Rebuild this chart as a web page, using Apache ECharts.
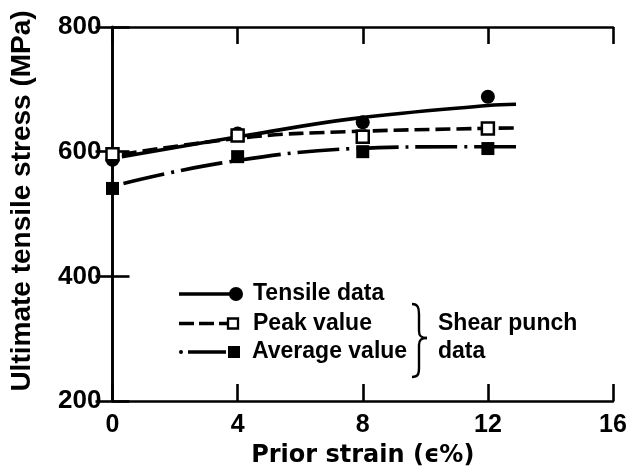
<!DOCTYPE html>
<html>
<head>
<meta charset="utf-8">
<title>Ultimate tensile stress vs prior strain</title>
<script src="https://cdn.jsdelivr.net/npm/echarts@6/dist/echarts.min.js"></script>
<style>
  html, body { margin: 0; padding: 0; background: #fff; }
  #chart { width: 633px; height: 473px; }
</style>
</head>
<body>
<div id="chart"></div>
<script>
// Prior strain (%) at which each material was tested
const strain = [0, 4, 8, 12];

// Measured points
const tensileData = [587, 629, 647, 688];   // tensile tests
const peakValue = [596, 626, 624, 637];     // shear punch, peak
const averageValue = [541, 592, 600, 605];  // shear punch, average

// Fitted trend curves, sampled along their drawn length
const tensileFitX = [0.3, 4.4, 7.7, 12.0, 12.9];
const tensileFitY = [592, 627, 653, 674, 676];
const peakFitX = [0.3, 4.5, 7.5, 11.5, 12.9];
const peakFitY = [596, 624, 632, 637, 638];
const averageFitX = [0.35, 3.5, 7.7, 11.3, 12.9];
const averageFitY = [549, 582, 605, 608, 608];

// Axis ranges and ticks
const xTicks = [0, 4, 8, 12, 16];
const yTicks = [200, 400, 600, 800];

const FONT = 'Liberation Sans';
const WIDE_FONT = 'DejaVu Sans';
const INK = '#000';

const pairs = (xs, ys) => xs.map((x, i) => [x, ys[i]]);

const chart = echarts.init(document.getElementById('chart'), null, { renderer: 'canvas' });

const axisCommon = {
  axisLine: { show: true, lineStyle: { color: INK, width: 2.6 } },
  axisTick: { show: true, inside: true, length: 17, lineStyle: { color: INK, width: 2.6 } },
  splitLine: { show: false }
};

const xBase = {
  type: 'value',
  min: xTicks[0],
  max: xTicks[xTicks.length - 1],
  interval: 4
};
const yBase = {
  type: 'value',
  min: yTicks[0],
  max: yTicks[yTicks.length - 1],
  interval: 200
};

const fitLine = (name, xs, ys, type) => ({
  name: name,
  type: 'line',
  data: pairs(xs, ys),
  smooth: 0.4,
  showSymbol: false,
  symbol: 'none',
  clip: false,
  silent: true,
  lineStyle: { color: INK, width: 3.6, type: type, cap: 'butt' },
  z: 2
});

const markers = (name, ys, symbol, size, fill) => ({
  name: name,
  type: 'scatter',
  data: pairs(strain, ys),
  symbol: symbol,
  symbolSize: size,
  clip: false,
  itemStyle: { color: fill, borderColor: INK, borderWidth: fill === '#fff' ? 2.5 : 0, opacity: 1 },
  z: 5
});

// Legend pieces drawn inside the plot
const legendY = [294, 323.5, 352];
const legendText = ['Tensile data', 'Peak value', 'Average value'];
const label = (text, x, y) => ({
  type: 'text',
  x: x,
  y: y,
  style: { text: text, fill: INK, font: 'bold 23px "' + FONT + '"', verticalAlign: 'middle', align: 'left' }
});
const stroke = { stroke: INK, lineWidth: 2.4, fill: null };

const graphic = [
  // vertical axis title
  {
    type: 'text',
    x: 22,
    y: 201,
    rotation: Math.PI / 2,
    style: { text: 'Ultimate tensile stress (MPa)', fill: INK, font: 'bold 28px "' + FONT + '"', align: 'center', verticalAlign: 'middle' }
  },
  { type: 'line', shape: { x1: 179, y1: legendY[0], x2: 230, y2: legendY[0] }, style: { stroke: INK, lineWidth: 3.6 } },
  { type: 'circle', shape: { cx: 236, cy: legendY[0], r: 7 }, style: { fill: INK } },
  { type: 'line', shape: { x1: 179, y1: legendY[1], x2: 227, y2: legendY[1] }, style: { stroke: INK, lineWidth: 3.6, lineDash: [15, 5] } },
  { type: 'rect', shape: { x: 228, y: legendY[1] - 5, width: 10, height: 10 }, style: { fill: '#fff', stroke: INK, lineWidth: 2.3 } },
  { type: 'circle', shape: { cx: 181, cy: legendY[2], r: 2 }, style: { fill: INK } },
  { type: 'line', shape: { x1: 188, y1: legendY[2], x2: 226, y2: legendY[2] }, style: { stroke: INK, lineWidth: 3.6 } },
  { type: 'rect', shape: { x: 228, y: legendY[2] - 6, width: 12, height: 12 }, style: { fill: INK } },
  label(legendText[0], 253, legendY[0]),
  label(legendText[1], 253, legendY[1]),
  label(legendText[2], 252, legendY[2]),
  // curly brace grouping the two shear punch entries
  { type: 'bezierCurve', shape: { x1: 412, y1: 304, cpx1: 418, cpy1: 304, cpx2: 419, cpy2: 308, x2: 419, y2: 314 }, style: stroke },
  { type: 'line', shape: { x1: 419, y1: 314, x2: 419, y2: 331 }, style: stroke },
  { type: 'bezierCurve', shape: { x1: 419, y1: 331, cpx1: 419, cpy1: 336, cpx2: 421, cpy2: 338, x2: 427, y2: 338 }, style: stroke },
  { type: 'bezierCurve', shape: { x1: 427, y1: 338, cpx1: 421, cpy1: 338, cpx2: 419, cpy2: 340, x2: 419, y2: 345 }, style: stroke },
  { type: 'line', shape: { x1: 419, y1: 345, x2: 419, y2: 368 }, style: stroke },
  { type: 'bezierCurve', shape: { x1: 419, y1: 368, cpx1: 419, cpy1: 374, cpx2: 418, cpy2: 377, x2: 412, y2: 377 }, style: stroke },
  label('Shear punch', 438, legendY[1]),
  label('data', 438, legendY[2])
];

chart.setOption({
  animation: false,
  backgroundColor: '#fff',
  grid: { left: 112.5, right: 20, top: 27, bottom: 72, containLabel: false, outerBoundsMode: 'none' },
  xAxis: [
    Object.assign({}, xBase, axisCommon, {
      position: 'bottom',
      name: 'Prior strain (\u03f5%)',
      nameLocation: 'middle',
      nameGap: 43,
      nameTextStyle: { color: INK, fontFamily: WIDE_FONT, fontWeight: 'bold', fontSize: 24 },
      axisLabel: { color: INK, fontFamily: FONT, fontWeight: 'bold', fontSize: 25, margin: 12 }
    }),
    Object.assign({}, xBase, axisCommon, { position: 'top', axisLabel: { show: false } })
  ],
  yAxis: [
    Object.assign({}, yBase, axisCommon, {
      position: 'left',
      axisLabel: { color: INK, fontFamily: FONT, fontWeight: 'bold', fontSize: 26, margin: 11 }
    }),
    Object.assign({}, yBase, axisCommon, { position: 'right', axisLabel: { show: false } })
  ],
  graphic: graphic,
  series: [
    fitLine('Tensile fit', tensileFitX, tensileFitY, 'solid'),
    fitLine('Peak fit', peakFitX, peakFitY, [15, 6]),
    fitLine('Average fit', averageFitX, averageFitY, [42, 7, 3, 7]),
    markers('Tensile data', tensileData, 'circle', 14, INK),
    markers('Peak value', peakValue, 'rect', 12, '#fff'),
    markers('Average value', averageValue, 'rect', 13, INK)
  ]
});
</script>
</body>
</html>
